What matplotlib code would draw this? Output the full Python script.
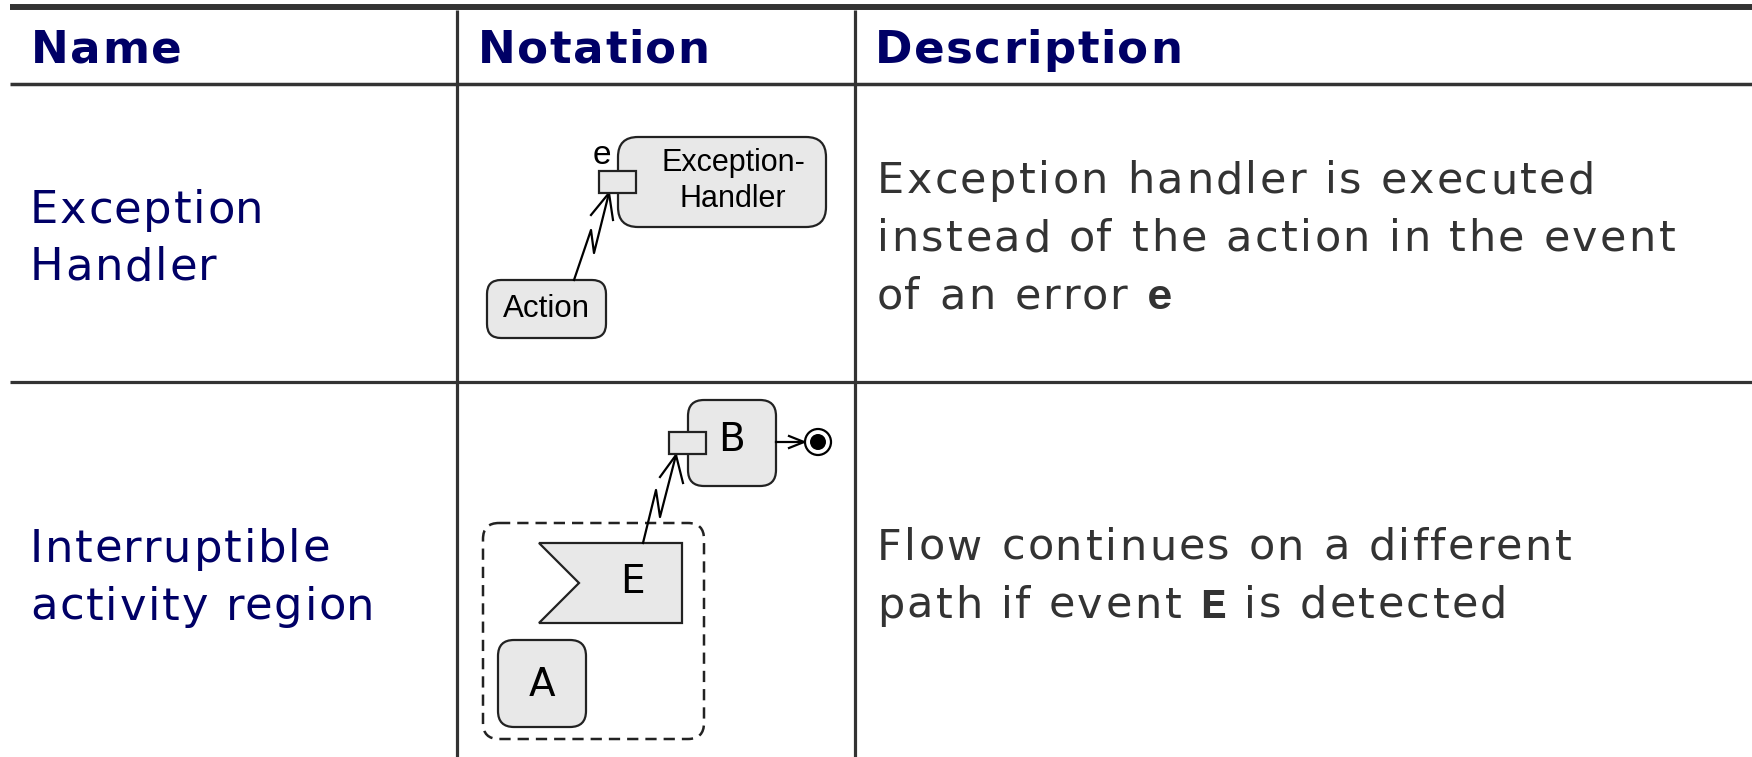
import matplotlib
matplotlib.use("Agg")
import matplotlib.pyplot as plt
from matplotlib.patches import FancyBboxPatch, Rectangle, Polygon, Circle
from matplotlib.font_manager import FontProperties


# table content
headers = ["Name", "Notation", "Description"]
names = [["Exception", "Handler"], ["Interruptible", "activity region"]]
# each line is a list of (text, is_code) pieces
descriptions = [
    [[("Exception handler is executed", False)],
     [("instead of the action in the event", False)],
     [("of an error ", False), ("e", True)]],
    [[("Flow continues on a different", False)],
     [("path if event ", False), ("E", True), (" is detected", False)]],
]
# labels inside the notation drawings
handler_label = "Exception-\nHandler"
action_label = "Action"
error_label = "e"
node_labels = ["A", "B", "E"]

NAVY = "#000066"
GREY = "#333333"
LINE = "#333333"
FILL = "#e8e8e8"
EDGE = "#222222"

W, H = 1752, 757
fig = plt.figure(figsize=(W / 100, H / 100), dpi=100)
ax = fig.add_axes([0, 0, 1, 1])
ax.set_xlim(0, W)
ax.set_ylim(H, 0)
ax.axis("off")
renderer = fig.canvas.get_renderer()


def textWidth(s, prop):
    # width in pixels, keeps trailing spaces by measuring against a marker
    w1, _, _ = renderer.get_text_width_height_descent(s + "x", prop, ismath=False)
    w2, _, _ = renderer.get_text_width_height_descent("x", prop, ismath=False)
    return w1 - w2


def trackedText(x, y, s, track, prop, color):
    # draw char by char with extra letter spacing, return end x
    for i, ch in enumerate(s):
        cx = x + textWidth(s[:i], prop) + i * track
        if ch != " ":
            ax.text(cx, y, ch, fontproperties=prop, color=color, va="baseline")
    return x + textWidth(s, prop) + len(s) * track


# grid lines
ax.plot([10, W], [7, 7], color=LINE, lw=4.3, solid_capstyle="butt")
ax.plot([10, W], [83.5, 83.5], color=LINE, lw=2.5, solid_capstyle="butt")
ax.plot([10, W], [381.5, 381.5], color=LINE, lw=2.3, solid_capstyle="butt")
for x in [456.5, 854.5]:
    ax.plot([x, x], [10, H], color=LINE, lw=2.3, solid_capstyle="butt")

# header
head_prop = FontProperties(family="DejaVu Sans", weight="bold", size=32.5)
for x, h in zip([31, 478, 875], headers):
    trackedText(x, 63, h, 1.5, head_prop, NAVY)

# names column
name_prop = FontProperties(family="DejaVu Sans", size=32.3)
name_base = [223, 562]
for base, lines in zip(name_base, names):
    for i, line in enumerate(lines):
        trackedText(30, base + i * 57.5, line, 1.7, name_prop, NAVY)

# descriptions column, code pieces in bold monospace
desc_prop = FontProperties(family="DejaVu Sans", size=31)
code_prop = FontProperties(family="Liberation Mono", weight="bold", size=31)
desc_base = [193, 560]
for base, lines in zip(desc_base, descriptions):
    for i, line in enumerate(lines):
        x = 877
        for piece, code in line:
            x = trackedText(x, base + i * 58, piece, 2.5,
                            code_prop if code else desc_prop, GREY)


def rbox(x0, y0, x1, y1, r, **kw):
    p = FancyBboxPatch((x0, y0), x1 - x0, y1 - y0,
                       boxstyle="round,pad=0,rounding_size=%d" % r, **kw)
    ax.add_patch(p)


def lightning(pts, wings):
    xs, ys = zip(*pts)
    ax.plot(xs, ys, color="black", lw=1.6)
    tip = pts[-1]
    for w in wings:
        ax.plot([w[0], tip[0]], [w[1], tip[1]], color="black", lw=1.6)


# notation 1: exception handler
rbox(618, 137, 826, 227, 20, fc=FILL, ec=EDGE, lw=1.6)
ax.add_patch(Rectangle((599, 171), 37, 22, fc=FILL, ec=EDGE, lw=1.6, zorder=3))
ax.text(733, 181, handler_label, fontsize=22, family="Liberation Sans",
        ha="center", va="center", linespacing=1.25)
ax.text(602, 155, error_label, fontsize=24, family="Liberation Sans",
        ha="center", va="center")
rbox(487, 280, 606, 338, 14, fc=FILL, ec=EDGE, lw=1.6)
ax.text(546, 309, action_label, fontsize=22.5, family="Liberation Sans",
        ha="center", va="center")
lightning([(574, 280), (591, 230), (594, 253), (609, 193)],
          [(591, 215), (613, 220)])

# notation 2: interruptible region
rbox(483, 523, 704, 739, 16, fc="none", ec=EDGE, lw=1.8,
     linestyle=(0, (4.5, 2.8)))
ax.add_patch(Polygon([(539, 543), (682, 543), (682, 623), (539, 623), (579, 583)],
                     closed=True, fc=FILL, ec=EDGE, lw=1.6))
ax.text(632, 582, node_labels[2], fontsize=28, family="DejaVu Sans",
        ha="center", va="center")
rbox(498, 640, 586, 727, 16, fc=FILL, ec=EDGE, lw=1.6)
ax.text(542, 685, node_labels[0], fontsize=28, family="DejaVu Sans",
        ha="center", va="center")
rbox(688, 400, 776, 486, 16, fc=FILL, ec=EDGE, lw=1.6)
ax.add_patch(Rectangle((669, 432), 37, 22, fc=FILL, ec=EDGE, lw=1.6, zorder=3))
ax.text(732, 440, node_labels[1], fontsize=28, family="DejaVu Sans",
        ha="center", va="center")
lightning([(643, 543), (656, 490), (660, 517), (676, 455)],
          [(660, 477), (683, 483)])
# flow to final node
ax.plot([776, 804], [442, 442], color="black", lw=1.6)
ax.plot([789, 804, 789], [436, 442, 448], color="black", lw=1.6)
ax.add_patch(Circle((818, 442), 13, fc="white", ec="black", lw=1.6))
ax.add_patch(Circle((818, 442), 8, fc="black", ec="black", lw=0))

fig.savefig("out.png", dpi=100)
